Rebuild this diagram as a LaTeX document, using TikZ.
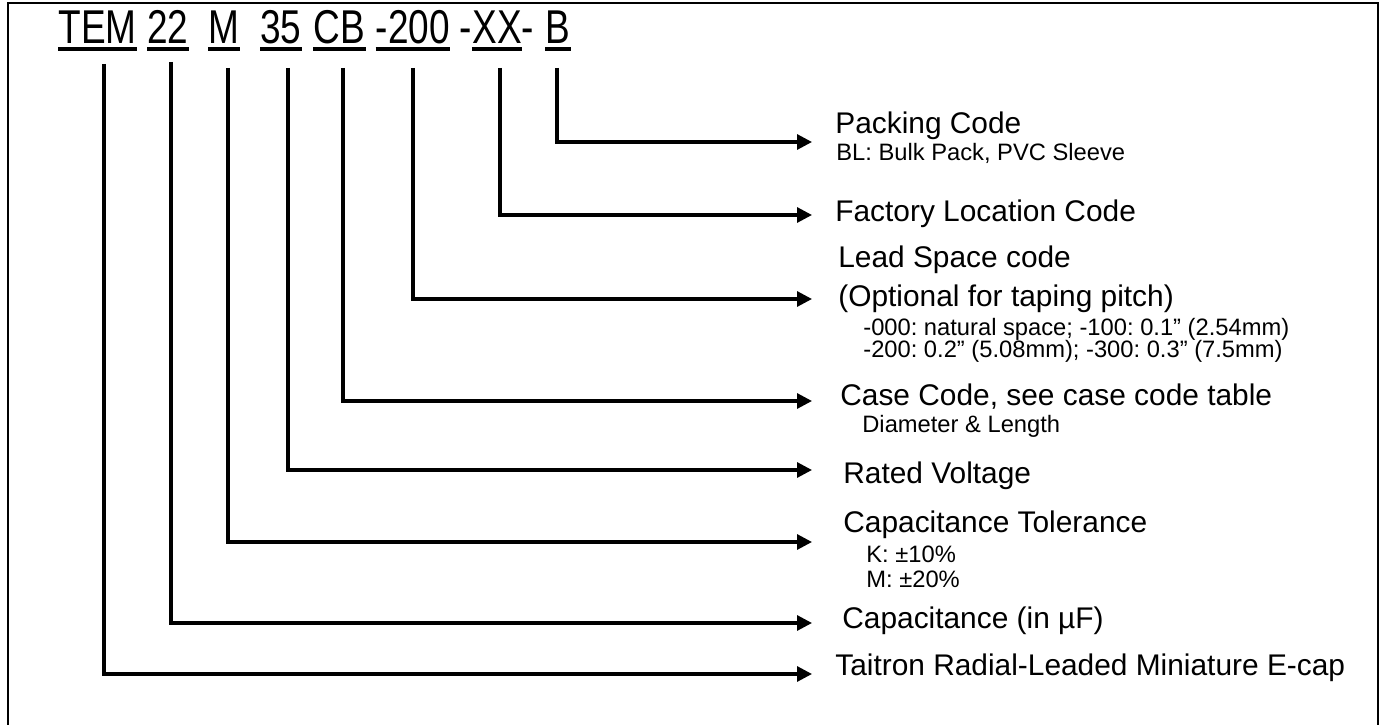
\documentclass[tikz,border=0pt]{standalone}
\usepackage{fontspec}
\setmainfont{Liberation Sans}
\newfontfamily\partfont[FakeStretch=0.78]{Liberation Sans}
\usetikzlibrary{arrows.meta}
\frenchspacing

\tikzset{
  code/.style={anchor=base,inner sep=0pt,font=\partfont\fontsize{27}{32}\selectfont},
  uline/.style={line width=2pt},
  leader/.style={line width=1.8pt,-{Triangle[length=0.3cm,width=0.3cm]}},
  lbl/.style={anchor=base west,inner sep=0pt,font=\fontsize{17}{20}\selectfont},
  sub/.style={anchor=base west,inner sep=0pt,font=\fontsize{13.5}{16}\selectfont}
}

\begin{document}
\begin{tikzpicture}
\useasboundingbox (0,0) rectangle (27.7,-14.5);
% frame, open at the bottom
\draw[line width=1.1pt] (0.16,-14.5) -- (0.16,-0.06) -- (27.56,-0.06) -- (27.56,-14.5);

% part number
\foreach \name/\x/\txt in {tem/1.95/TEM, n22/3.36/22, m/4.48/M, v35/5.62/35,
    cb/6.79/CB, lead200/8.26/-200, b/11.16/B} {
  \node[code] (\name) at (\x,-0.88) {\txt};
  \draw[uline] ([yshift=-0.1cm]\name.base west) -- ([yshift=-0.1cm]\name.base east);
}
\node[code] (xx) at (9.94,-0.88) {-XX-};
\draw[uline] ([xshift=7pt,yshift=-0.1cm]xx.base west) -- ([xshift=-7pt,yshift=-0.1cm]xx.base east);

% descriptions
\node[lbl] (pack) at (16.70,-2.68) {Packing Code};
\node[sub] (packsub) at (16.72,-3.22) {BL: Bulk Pack, PVC Sleeve};
\node[lbl] (factory) at (16.70,-4.44) {Factory Location Code};
\node[lbl] (lead) at (16.76,-5.36) {Lead Space code};
\node[lbl] (leadopt) at (16.76,-6.14) {(Optional for taping pitch)};
\node[sub] (leadsubA) at (17.26,-6.72) {-000: natural space; -100: 0.1'' (2.54mm)};
\node[sub] (leadsubB) at (17.26,-7.16) {-200: 0.2'' (5.08mm); -300: 0.3'' (7.5mm)};
\node[lbl] (case) at (16.80,-8.12) {Case Code, see case code table};
\node[sub] (casesub) at (17.24,-8.66) {Diameter \& Length};
\node[lbl] (rated) at (16.86,-9.68) {Rated Voltage};
\node[lbl] (tol) at (16.86,-10.66) {Capacitance Tolerance};
\node[sub] (tolK) at (17.32,-11.26) {K: ±10\%};
\node[sub] (tolM) at (17.32,-11.76) {M: ±20\%};
\node[lbl] (cap) at (16.84,-12.56) {Capacitance (in µF)};
\node[lbl] (taitron) at (16.70,-13.50) {Taitron Radial-Leaded Miniature E-cap};

% leaders: part, shift right of its centre, start below it, height of the arrow
\foreach \part/\dx/\dy/\y in {b/-0.02/0.48/2.84, xx/0.06/0.48/4.30,
    lead200/0/0.48/5.98, cb/0.07/0.48/8.02, v35/0.14/0.48/9.40,
    m/0.08/0.48/10.84, n22/0.06/0.36/12.46, tem/0.13/0.40/13.48} {
  \coordinate (end-\part) at (16.24,-\y);
  \draw[leader] ([xshift=\dx cm,yshift=-\dy cm]\part.base) |- (end-\part);
}

\end{tikzpicture}
\end{document}
